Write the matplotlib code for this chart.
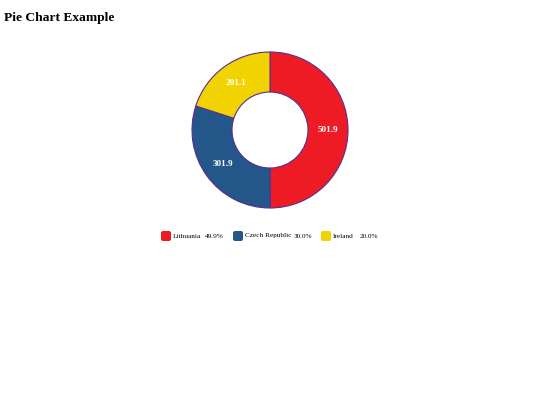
import matplotlib.pyplot as plt
from matplotlib.patches import FancyBboxPatch

countries = ["Lithuania", "Czech Republic", "Ireland"]
values = [501.9, 301.9, 201.1]
colours = ["#ED1C24", "#235789", "#F1D302"]

# legend layout (pixel x of swatch, name, percent)
leg_swatch_x = [161, 233, 321]
leg_name_x = [173, 245, 333]
leg_pct_x = [205, 294, 360]

plt.rcParams['font.family'] = ['Liberation Serif', 'DejaVu Serif']

fig = plt.figure(figsize=(5.4, 4.05), dpi=100)
ax = fig.add_axes([0, 0, 1, 1])

total = sum(values)
wedges, texts, autotexts = ax.pie(
	values, colors=colours, startangle=90, counterclock=False,
	center=(270, 275), radius=78, frame=True,
	wedgeprops=dict(width=40, edgecolor="#5B2C8F", linewidth=0.8),
	autopct=lambda p: "%.1f" % (p * total / 100), pctdistance=0.745,
	textprops=dict(color="white", fontsize=6.6, fontweight="bold"))
ax.set_xlim(0, 540)
ax.set_ylim(0, 405)
ax.set_aspect('equal')
ax.axis('off')

fig.text(4 / 540, 1 - 20.5 / 405, "Pie Chart Example", fontsize=9.7,
	fontweight="bold", va="baseline", ha="left")

ly = 405 - 236
for i in range(len(countries)):
	ax.add_patch(FancyBboxPatch((leg_swatch_x[i] + 1, ly - 4), 8, 8,
		boxstyle="round,pad=1,rounding_size=2", fc=colours[i], ec="none"))
	ax.text(leg_name_x[i], ly, countries[i], fontsize=5.2, va="center", ha="left")
	ax.text(leg_pct_x[i], ly, "%.1f%%" % (100 * values[i] / total),
		fontsize=5.2, va="center", ha="left")

fig.savefig("out.png", dpi=100)
